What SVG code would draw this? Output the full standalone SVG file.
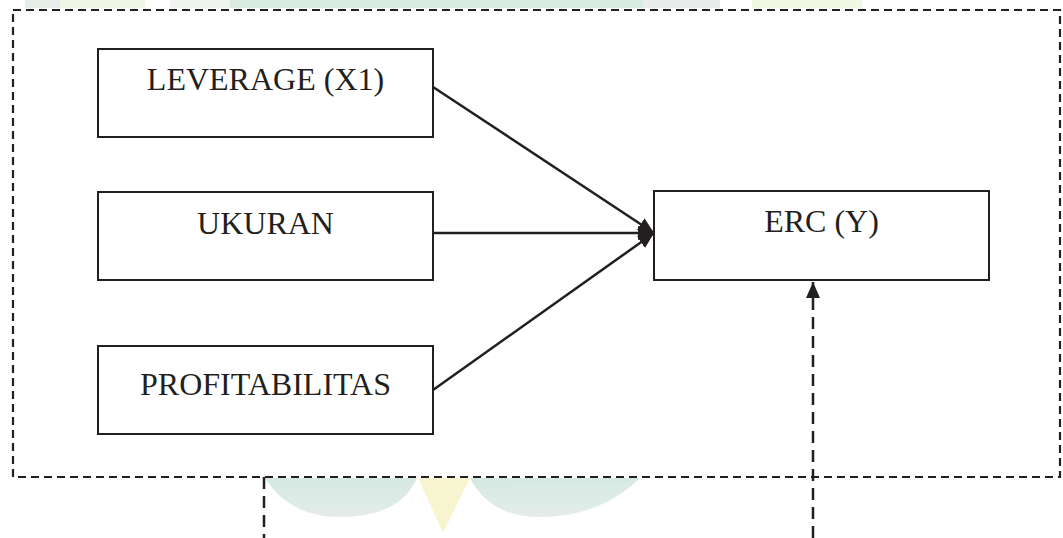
<svg xmlns="http://www.w3.org/2000/svg" width="1063" height="538" viewBox="0 0 1063 538">
<style>
.box{fill:#ffffff;stroke:#231f20;stroke-width:2}
.lbl{font-family:"Liberation Serif","Times New Roman",serif;font-size:32px;fill:#231f20;text-anchor:middle}
.conn{stroke:#231f20;stroke-width:2.5;fill:none}
.dash{stroke:#231f20;stroke-width:2.2;fill:none;stroke-dasharray:8 5}
.vdash{stroke:#231f20;stroke-width:2.5;fill:none;stroke-dasharray:12 7}
.wm{fill:url(#wmg)}
</style>
<defs>
<marker id="ah" markerUnits="userSpaceOnUse" viewBox="0 0 16 14" refX="16" refY="7" markerWidth="16" markerHeight="14" orient="auto">
<path d="M0,0 L16,7 L0,14 Z" fill="#231f20"/>
</marker>
<linearGradient id="wmg" x1="0" y1="0" x2="0" y2="1">
<stop offset="0" stop-color="#cfe6dc"/>
<stop offset="0.7" stop-color="#d9e9e3"/>
<stop offset="1" stop-color="#e4e6e8"/>
</linearGradient>
</defs>
<rect width="1063" height="538" fill="#ffffff"/>
<g id="watermark" opacity="0.85">
<rect x="25" y="0" width="35" height="8" fill="#e3ebe6"/>
<rect x="60" y="0" width="85" height="8" fill="#eef4e2"/>
<rect x="170" y="0" width="60" height="8" fill="#eef3ee"/>
<rect x="230" y="0" width="413" height="8" fill="#d3e8de"/>
<rect x="643" y="0" width="77" height="8" fill="#e6ebe8"/>
<rect x="752" y="0" width="110" height="8" fill="#eef4e0"/>
<path d="M265,478 L417,478 Q400,517 340,517 Q290,517 265,478 Z" class="wm"/>
<path d="M470,478 L640,478 Q600,517 540,517 Q490,517 470,478 Z" class="wm"/>
<path d="M418,478 L470,478 L443,533 Z" fill="#f6f3c8"/>
</g>
<g id="frame">
<rect x="13" y="10" width="1047" height="467" class="dash"/>
</g>
<g id="connectors">
<line x1="433" y1="87" x2="654" y2="233" class="conn" marker-end="url(#ah)"/>
<line x1="433" y1="233" x2="654" y2="233" class="conn" marker-end="url(#ah)"/>
<line x1="433" y1="390" x2="654" y2="233" class="conn" marker-end="url(#ah)"/>
<line x1="813" y1="538" x2="813" y2="282" class="vdash" marker-end="url(#ah)"/>
<line x1="264" y1="477" x2="264" y2="538" class="vdash"/>
</g>
<g id="leverage">
<rect x="98" y="49" width="335" height="88" class="box"/>
<text x="265.5" y="90" class="lbl">LEVERAGE (X1)</text>
</g>
<g id="ukuran">
<rect x="98" y="192" width="335" height="88" class="box"/>
<text x="265.5" y="234" class="lbl">UKURAN</text>
</g>
<g id="profitabilitas">
<rect x="98" y="346" width="335" height="88" class="box"/>
<text x="265.5" y="395" class="lbl">PROFITABILITAS</text>
</g>
<g id="erc">
<rect x="654" y="191" width="335" height="89" class="box"/>
<text x="821.5" y="232" class="lbl">ERC (Y)</text>
</g>
</svg>
